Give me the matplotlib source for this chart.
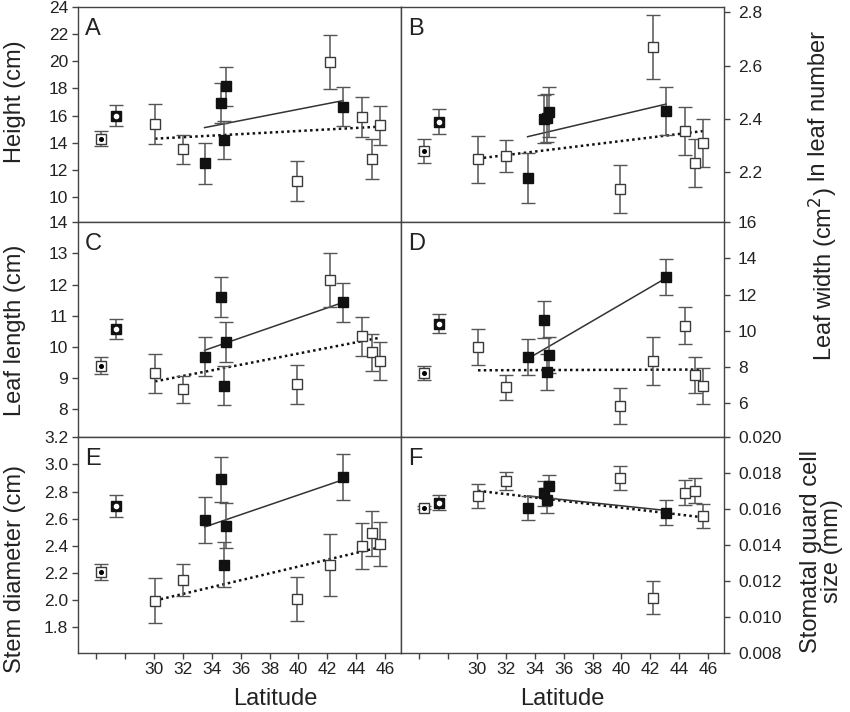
import numpy as np
import matplotlib.pyplot as plt

plt.rcParams['font.family'] = ['Liberation Sans', 'DejaVu Sans']

# latitudes of the populations
lat_open = [30.07, 32.0, 39.9, 42.2, 44.4, 45.1, 45.65]
lat_filled = [33.5, 34.65, 34.85, 35.0, 43.1]
lat_ref = [26.35, 27.35]

# A - height (cm)
height_open = [15.37, 13.5, 11.17, 19.95, 15.9, 12.83, 15.27]
height_open_err = [1.45, 1.05, 1.47, 2.0, 1.45, 1.47, 1.45]
height_filled = [12.47, 16.93, 14.17, 18.15, 16.66]
height_filled_err = [1.5, 1.5, 1.4, 1.45, 1.45]
height_ref = [14.3, 16.0]
height_ref_err = [0.55, 0.8]

# B - ln leaf number
leafnum_open = [2.248, 2.26, 2.136, 2.67, 2.353, 2.233, 2.309]
leafnum_open_err = [0.088, 0.06, 0.089, 0.12, 0.09, 0.09, 0.09]
leafnum_filled = [2.179, 2.399, 2.404, 2.424, 2.43]
leafnum_filled_err = [0.094, 0.09, 0.09, 0.094, 0.09]
leafnum_ref = [2.28, 2.389]
leafnum_ref_err = [0.045, 0.048]

# C - leaf length (cm)
length_open = [9.15, 8.64, 8.79, 12.14, 10.34, 9.82, 9.55]
length_open_err = [0.62, 0.43, 0.63, 0.86, 0.63, 0.6, 0.62]
length_filled = [9.68, 11.6, 8.75, 10.16, 11.43]
length_filled_err = [0.62, 0.63, 0.62, 0.65, 0.63]
length_ref = [9.39, 10.57]
length_ref_err = [0.27, 0.33]

# D - leaf width (cm2)
width_open = [9.1, 6.87, 5.82, 8.33, 10.27, 7.55, 6.94]
width_open_err = [1.0, 0.68, 1.0, 1.33, 1.02, 0.98, 0.98]
width_filled = [8.57, 10.62, 7.74, 8.64, 12.99]
width_filled_err = [1.0, 1.02, 1.0, 1.0, 1.0]
width_ref = [7.66, 10.4]
width_ref_err = [0.37, 0.52]

# E - stem diameter (cm)
stem_open = [1.992, 2.147, 2.007, 2.256, 2.396, 2.49, 2.411]
stem_open_err = [0.165, 0.12, 0.163, 0.227, 0.172, 0.165, 0.165]
stem_filled = [2.586, 2.889, 2.258, 2.547, 2.904]
stem_filled_err = [0.17, 0.165, 0.167, 0.165, 0.17]
stem_ref = [2.207, 2.692]
stem_ref_err = [0.06, 0.084]

# F - stomatal guard cell size (mm)
stoma_open = [0.01672, 0.01755, 0.01772, 0.01106, 0.01692, 0.01703, 0.01564]
stoma_open_err = [0.00067, 0.0005, 0.00067, 0.00093, 0.0007, 0.0007, 0.00067]
stoma_filled = [0.01605, 0.01690, 0.01650, 0.01728, 0.01581]
stoma_filled_err = [0.00067, 0.0007, 0.0007, 0.00065, 0.00069]
stoma_ref = [0.01609, 0.01637]
stoma_ref_err = [0.0001, 0.0004]

x_ticks = [26, 28, 30, 32, 34, 36, 38, 40, 42, 44, 46]
x_labels = ['', '', '30', '32', '34', '36', '38', '40', '42', '44', '46']

EDGE = '#3a3a3a'
BAR = '#555555'


def draw_panel(ax, open_y, open_err, filled_y, filled_err, ref_y, ref_err):
    # regression lines over the range of each group
    for lat, y, ls, lw, col in ((lat_open, open_y, (0, (1, 1.3)), 1.8, '#111111'),
                                (lat_filled, filled_y, '-', 1.1, '#333333')):
        lat = np.asarray(lat)
        k, b = np.polyfit(lat, y, 1)
        xs = np.array([lat.min(), lat.max()])
        ax.plot(xs, k * xs + b, ls=ls, lw=lw, color=col, zorder=2)

    common = dict(fmt='s', ms=7.5, mew=1, ecolor=BAR, elinewidth=1.1,
                  capsize=5, capthick=1.1, zorder=3)
    ax.errorbar(lat_open, open_y, yerr=open_err, mfc='white', mec=EDGE, **common)
    ax.errorbar(lat_filled, filled_y, yerr=filled_err, mfc='#111111', mec='#111111', **common)

    # reference populations (marked squares)
    ref = dict(fmt='s', ms=6.5, mew=1, ecolor=BAR, elinewidth=1.1,
               capsize=5, capthick=1.1, zorder=3)
    ax.errorbar(lat_ref[0], ref_y[0], yerr=ref_err[0], mfc='white', mec=EDGE, **ref)
    ax.plot(lat_ref[0], ref_y[0], marker='o', ms=2.6, color='black', zorder=4)
    ax.errorbar(lat_ref[1], ref_y[1], yerr=ref_err[1], mfc='#111111', mec='#111111', **ref)
    ax.plot(lat_ref[1], ref_y[1], marker='o', ms=3, color='white', zorder=4)


fig, axes = plt.subplots(3, 2, figsize=(8.5, 7.12), dpi=100)
fig.subplots_adjust(left=0.0918, right=0.8518, top=0.9902, bottom=0.0833,
                    wspace=0, hspace=0)

panels = [
    (axes[0, 0], height_open, height_open_err, height_filled, height_filled_err, height_ref, height_ref_err),
    (axes[0, 1], leafnum_open, leafnum_open_err, leafnum_filled, leafnum_filled_err, leafnum_ref, leafnum_ref_err),
    (axes[1, 0], length_open, length_open_err, length_filled, length_filled_err, length_ref, length_ref_err),
    (axes[1, 1], width_open, width_open_err, width_filled, width_filled_err, width_ref, width_ref_err),
    (axes[2, 0], stem_open, stem_open_err, stem_filled, stem_filled_err, stem_ref, stem_ref_err),
    (axes[2, 1], stoma_open, stoma_open_err, stoma_filled, stoma_filled_err, stoma_ref, stoma_ref_err),
]
for p in panels:
    draw_panel(*p)

ylims = [(8.14, 24), (2.011, 2.82), (7.09, 14), (4.1, 16), (1.608, 3.2), (0.008, 0.020)]
yticks = [np.arange(10, 25, 2), [2.2, 2.4, 2.6, 2.8], np.arange(8, 15, 1),
          np.arange(6, 17, 2), np.arange(1.8, 3.21, 0.2), np.arange(0.008, 0.0201, 0.002)]
yfmt = ['%d', '%.1f', '%d', '%d', '%.1f', '%.3f']
ylabels = ['Height (cm)', 'ln leaf number', 'Leaf length (cm)', 'Leaf width (cm$^2$)',
           'Stem diameter (cm)', 'Stomatal guard cell\nsize (mm)']
label_y = [0.56, 0.54, 0.5, 0.76, 0.39, 0.47]
letters = ['A', 'B', 'C', 'D', 'E', 'F']

for i, ax in enumerate(axes.flat):
    right = i % 2 == 1
    ax.set_xlim(24.74, 47.1)
    ax.set_ylim(*ylims[i])
    ax.set_xticks(x_ticks)
    ax.set_yticks(yticks[i])
    ax.set_yticklabels([yfmt[i] % v for v in yticks[i]])
    for s in ax.spines.values():
        s.set_color('#444444')
        s.set_linewidth(1.0)
    ax.tick_params(direction='out', length=4, width=1, color='#444444',
                   labelsize=12.5, labelcolor='#222222', pad=3)
    if i >= 4:
        ax.set_xticklabels(x_labels)
        ax.set_xlabel('Latitude', fontsize=17, color='#222222')
        ax.xaxis.set_label_coords(0.5 if right else 0.61, -0.165)
    else:
        ax.tick_params(labelbottom=False)
    if right:
        ax.yaxis.tick_right()
        ax.yaxis.set_label_position('right')
        ax.tick_params(axis='y', pad=6)
        ax.set_ylabel(ylabels[i], fontsize=17, color='#222222', linespacing=0.95)
        ax.yaxis.set_label_coords(1.235 if i == 5 else 1.26, label_y[i])
    else:
        ax.set_ylabel(ylabels[i], fontsize=17, color='#222222')
        ax.yaxis.set_label_coords(-0.16, label_y[i])
    ax.text(0.022, 0.95, letters[i], transform=ax.transAxes, fontsize=17,
            ha='left', va='top', color='#222222')

fig.savefig('out.png', dpi=100)
